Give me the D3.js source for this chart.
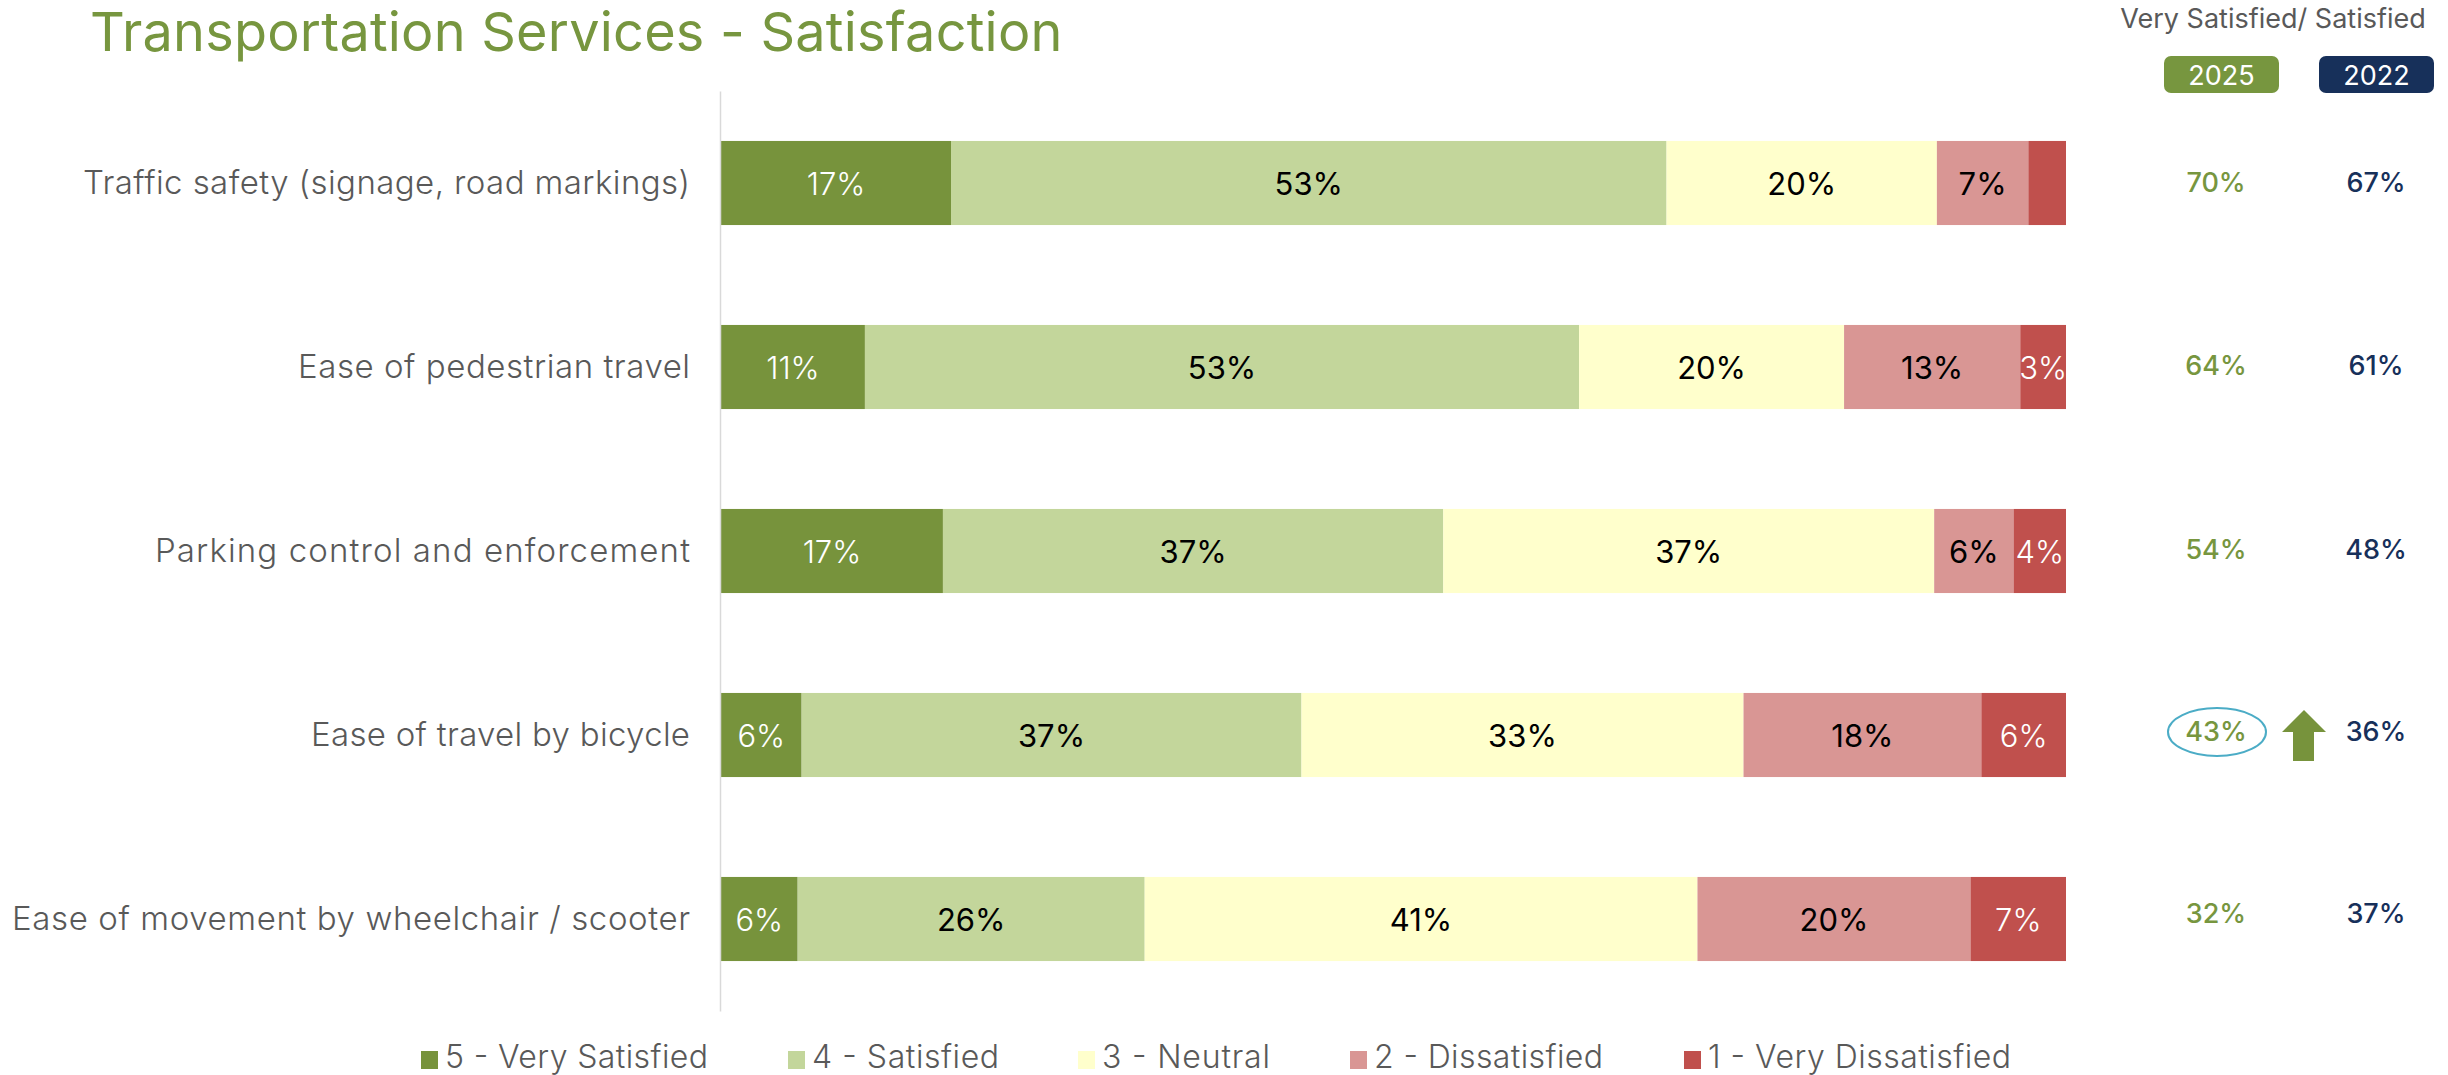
<!DOCTYPE html>
<html><head><meta charset="utf-8">
<script src="https://cdn.jsdelivr.net/npm/d3@7"></script>
<style>html,body{margin:0;padding:0;background:#fff;overflow:hidden}svg{display:block}text{font-family:Inter,"Open Sans",sans-serif}</style>
</head><body><svg id="c" width="2448" height="1075"></svg>
<script>
const categories=["Traffic safety (signage, road markings)","Ease of pedestrian travel","Parking control and enforcement","Ease of travel by bicycle","Ease of movement by wheelchair / scooter"];
const seriesNames=["5 - Very Satisfied","4 - Satisfied","3 - Neutral","2 - Dissatisfied","1 - Very Dissatisfied"];
const verySatisfied=[17.1,10.7,16.5,6.0,5.7];
const satisfied=[53.2,53.1,37.2,37.2,25.8];
const neutral=[20.1,19.7,36.5,32.9,41.1];
const dissatisfied=[6.8,13.1,5.9,17.7,20.3];
const veryDissatisfied=[2.8,3.4,3.9,6.3,7.1];
const labelRows=[["17%","53%","20%","7%",""],["11%","53%","20%","13%","3%"],["17%","37%","37%","6%","4%"],["6%","37%","33%","18%","6%"],["6%","26%","41%","20%","7%"]];
const top2025=["70%","64%","54%","43%","32%"];
const top2022=["67%","61%","48%","36%","37%"];
const colors=["#77933C","#C3D69B","#FFFFCC","#D99694","#C0504D"];
const labelColors=["#fff","#000","#000","#000","#fff"];
const GREEN="#77963F",NAVY="#17305A",GREY="#595959";
const svg=d3.select("#c");
const rows=categories.map((c,i)=>({cat:c,"0":verySatisfied[i],"1":satisfied[i],"2":neutral[i],"3":dissatisfied[i],"4":veryDissatisfied[i]}));
const stack=d3.stack().keys(["0","1","2","3","4"]).offset(d3.stackOffsetExpand)(rows);
const x=d3.scaleLinear().domain([0,1]).range([721,2066]);
const y=d3.scaleBand().domain(categories).range([91,1011]).paddingInner(0.543).paddingOuter(0.2715);
const yc=c=>y(c)+y.bandwidth()/2;
svg.append("text").attr("x",90).attr("y",51).attr("fill",GREEN).attr("font-size",54).attr("letter-spacing",0.22).text("Transportation Services - Satisfaction");
const g=svg.selectAll("g.s").data(stack).join("g").attr("class","s");
g.selectAll("rect").data(d=>d.map(v=>({v,k:+d.key}))).join("rect")
 .attr("x",d=>x(d.v[0])).attr("width",d=>x(d.v[1])-x(d.v[0]))
 .attr("y",d=>y(d.v.data.cat)).attr("height",y.bandwidth()).attr("fill",d=>colors[d.k]);
g.selectAll("text").data(d=>d.map((v,i)=>({v,k:+d.key,i}))).join("text")
 .attr("x",d=>(x(d.v[0])+x(d.v[1]))/2).attr("y",d=>yc(d.v.data.cat)+12)
 .attr("text-anchor","middle").attr("font-size",31).attr("font-weight",d=>labelColors[d.k]==="#fff"?300:400).attr("fill",d=>labelColors[d.k])
 .text(d=>labelRows[d.i][d.k]);
const ax=svg.append("g").attr("transform","translate(720,0)").call(d3.axisLeft(y).tickSize(0).tickPadding(30));
ax.select(".domain").attr("stroke","#d9d9d9").attr("stroke-width",1.5);
const labelWidths=[607,392,535,379,678];
ax.selectAll("text").attr("font-family",null).attr("font-size",33).attr("font-weight",300).attr("fill",GREY).attr("dy","0.34em")
  .attr("textLength",(d,i)=>labelWidths[i]).attr("lengthAdjust","spacing");
svg.append("text").attr("x",2273).attr("y",28).attr("text-anchor","middle").attr("font-size",27).attr("fill",GREY).text("Very Satisfied/ Satisfied");
const badges=[{t:"2025",x:2164,c:GREEN},{t:"2022",x:2319,c:NAVY}];
badges.forEach(b=>{svg.append("rect").attr("x",b.x).attr("y",56).attr("width",115).attr("height",37).attr("rx",7).attr("fill",b.c);
 svg.append("text").attr("x",b.x+57.5).attr("y",85).attr("text-anchor","middle").attr("font-size",27).attr("fill","#fff").text(b.t);});
const valueY=[183,366,550,732,914];
svg.selectAll("text.a").data(top2025).join("text").attr("class","a").attr("x",2216).attr("y",(d,i)=>valueY[i]+9).attr("text-anchor","middle").attr("font-size",27).attr("font-weight",500).attr("fill",GREEN).text(d=>d);
svg.selectAll("text.b").data(top2022).join("text").attr("class","b").attr("x",2376).attr("y",(d,i)=>valueY[i]+9).attr("text-anchor","middle").attr("font-size",27).attr("font-weight",500).attr("fill",NAVY).text(d=>d);
svg.append("ellipse").attr("cx",2217).attr("cy",732).attr("rx",49).attr("ry",24).attr("fill","none").attr("stroke","#4BACC6").attr("stroke-width",2);
svg.append("path").attr("d","M2304 710L2326 732L2314 732L2314 761L2293 761L2293 732L2282 732Z").attr("fill","#77933C");
const legendX=[421,788,1078,1350,1684];
const legendWidths=[263,187,168,229,303];
seriesNames.forEach((n,i)=>{svg.append("rect").attr("x",legendX[i]).attr("y",1051).attr("width",17).attr("height",18).attr("fill",colors[i]);
 svg.append("text").attr("x",legendX[i]+24).attr("y",1068).attr("font-size",32).attr("font-weight",300).attr("fill",GREY).attr("textLength",legendWidths[i]).attr("lengthAdjust","spacing").text(n);});
</script></body></html>
